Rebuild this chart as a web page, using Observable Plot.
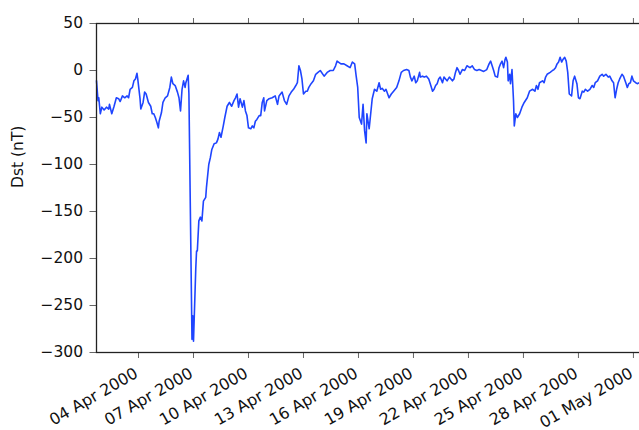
<!DOCTYPE html>
<html>
<head>
<meta charset="utf-8">
<script src="https://cdn.jsdelivr.net/npm/d3@7"></script>
<script src="https://cdn.jsdelivr.net/npm/@observablehq/plot@0.6"></script>
<style>
  html, body { margin: 0; padding: 0; background: #fff; overflow: hidden; }
  svg { max-width: none !important; }
</style>
</head>
<body>
<div id="chart"></div>
<script>
// Hourly Dst index, hours counted from 2000-04-01 00:00 UT
const hours = [
  17, 19, 20, 22, 24, 27, 30, 33, 34, 37, 40, 43, 46, 48, 51, 54, 57, 59, 61, 64,
  66, 68, 70, 71, 74, 75, 78, 80, 82, 85, 88, 90, 92, 94, 96, 98, 99, 102, 104, 107,
  110, 113, 115, 117, 120, 123, 125, 127, 129, 131, 133, 134, 137, 138, 142, 143, 144, 147, 148, 149,
  151, 153, 155, 157, 160, 161, 164, 166, 168, 171, 174, 176, 178, 180, 183, 185, 188, 191, 194, 197,
  199, 201, 203, 205, 208, 210, 212, 214, 216, 219, 221, 223, 225, 227, 230, 232, 234, 236, 237, 240,
  243, 247, 251, 254, 256, 260, 263, 266, 269, 272, 275, 278, 280, 282, 284, 286, 288, 291, 293, 295,
  298, 301, 304, 307, 310, 315, 319, 323, 327, 330, 332, 337, 341, 345, 349, 352, 355, 357, 359, 361,
  364, 366, 368, 370, 371, 374, 376, 378, 381, 384, 387, 389, 391, 394, 396, 400, 403, 406, 410, 413,
  416, 419, 423, 426, 428, 430, 433, 435, 437, 440, 441, 444, 446, 449, 452, 454, 457, 459, 461, 463,
  465, 467, 470, 472, 474, 476, 479, 483, 485, 487, 489, 491, 493, 496, 499, 502, 506, 509, 512, 515,
  518, 521, 524, 528, 531, 533, 535, 537, 539, 542, 544, 546, 548, 550, 552, 553, 555, 556, 558, 559,
  561, 563, 564, 566, 568, 571, 574, 577, 581, 584, 588, 591, 593, 595, 597, 601, 603, 605, 607, 611,
  614, 616, 618, 620, 622, 624, 626, 628, 630, 632, 634, 636, 639, 641, 643, 646, 648, 650, 653, 655,
  657, 660, 663, 666, 668, 670, 673, 676, 679, 681, 684, 687, 689, 692, 694, 696, 698, 700, 702, 705,
  707, 710, 712, 714, 716, 718, 720, 723, 725, 728, 731, 735, 739, 743
];
const dst = [
  -11, -32, -29, -46, -39, -42, -39, -41, -36, -46, -38, -29, -30, -33, -27, -29, -27, -29, -20, -18,
  -11, -9, -3, -9, -30, -41, -34, -23, -25, -34, -38, -46, -46, -50, -55, -61, -54, -45, -34, -29,
  -27, -18, -7, -14, -16, -23, -29, -43, -20, -11, -18, -13, -5, -25, -286, -261, -288, -210, -192, -192,
  -160, -156, -160, -139, -135, -124, -100, -93, -84, -78, -77, -73, -66, -71, -59, -50, -38, -34, -38, -32,
  -29, -25, -39, -30, -39, -32, -43, -48, -61, -62, -59, -61, -54, -52, -48, -48, -34, -29, -43, -32,
  -30, -29, -27, -36, -27, -23, -32, -36, -27, -23, -20, -16, -13, 5, 0, -9, -25, -22, -22, -18,
  -14, -11, -4, -2, 0, -6, -2, 0, 0, 5, 10, 7, 7, 5, 3, 9, 7, -6, -18, -50,
  -57, -36, -64, -77, -46, -62, -46, -30, -20, -22, -13, -20, -19, -22, -20, -29, -25, -22, -18, -11,
  -2, 0, 1, 0, -7, -11, -6, -13, -11, -2, -7, -6, -7, -6, -9, -14, -22, -20, -16, -14,
  -9, -7, -13, -7, -9, -11, -7, -11, -9, -2, 3, 0, -4, 1, 0, 5, 3, 5, 1, 0,
  1, 0, -1, 1, 7, 10, 5, 0, -6, -7, 3, 7, 10, 3, 12, 14, 9, -11, -4, -14,
  1, -32, -59, -46, -50, -46, -39, -34, -29, -22, -20, -22, -16, -20, -13, -11, -13, -7, -4, -2,
  0, 1, 3, 7, 9, 14, 9, 12, 14, 10, -2, -25, -27, -11, -6, -14, -29, -30, -22, -23,
  -20, -22, -20, -16, -18, -13, -11, -6, -4, -6, -4, -7, -6, -11, -13, -29, -20, -13, -9, -4,
  -6, -13, -18, -14, -13, -6, -11, -13, -14, -13, -15, -12, -16, -14
];

// Axis ticks
const yTicks = [50, 0, -50, -100, -150, -200, -250, -300];
const xTickDates = [
  "2000-04-04", "2000-04-07", "2000-04-10", "2000-04-13", "2000-04-16",
  "2000-04-19", "2000-04-22", "2000-04-25", "2000-04-28", "2000-05-01"
];
const yLabel = "Dst (nT)";

const origin = Date.UTC(2000, 3, 1);
const rows = hours.map((h, i) => ({date: new Date(origin + h * 3600e3), dst: dst[i]}));
const xTicks = xTickDates.map(s => new Date(s + "T00:00:00Z"));
const dateFmt = d3.utcFormat("%d %b %Y");
const numFmt = d => (d < 0 ? "\u2212" + Math.abs(d) : String(d));

const font = "DejaVu Sans, sans-serif";

const chart = Plot.plot({
  width: 670,
  height: 430,
  marginLeft: 96,
  marginRight: 19.5,
  marginTop: 23,
  marginBottom: 78,
  style: {fontFamily: font, fontSize: "15.5px", color: "#111", background: "#fff"},
  x: {type: "utc", domain: [rows[0].date, rows[rows.length - 1].date]},
  y: {domain: [-300, 50]},
  marks: [
    Plot.axisY({ticks: yTicks, tickSize: 6.5, tickPadding: 7, tickFormat: numFmt, label: null, stroke: "#666", fontSize: 15.5}),
    Plot.axisX({anchor: "top", ticks: xTicks, tickSize: 6, tickFormat: () => "", label: null, stroke: "#666"}),
    Plot.axisX({anchor: "bottom", ticks: xTicks, tickSize: 6, tickFormat: () => "", label: null, stroke: "#666"}),
    // rotated date labels, right end just left of each tick
    Plot.text(xTicks, {
      x: d => d, text: d => dateFmt(d), frameAnchor: "bottom",
      rotate: -30, textAnchor: "end", lineAnchor: "top",
      dx: -5, dy: 14, fontSize: 16, fill: "#111"
    }),
    Plot.text([yLabel], {
      text: d => d, frameAnchor: "left", rotate: -90, dx: -78,
      fontSize: 15.5, fill: "#111"
    }),
    Plot.line(rows, {x: "date", y: "dst", stroke: "#1f45ff", strokeWidth: 1.6}),
    Plot.frame({stroke: "#222", strokeWidth: 1.3})
  ]
});

document.getElementById("chart").append(chart);
</script>
</body>
</html>
